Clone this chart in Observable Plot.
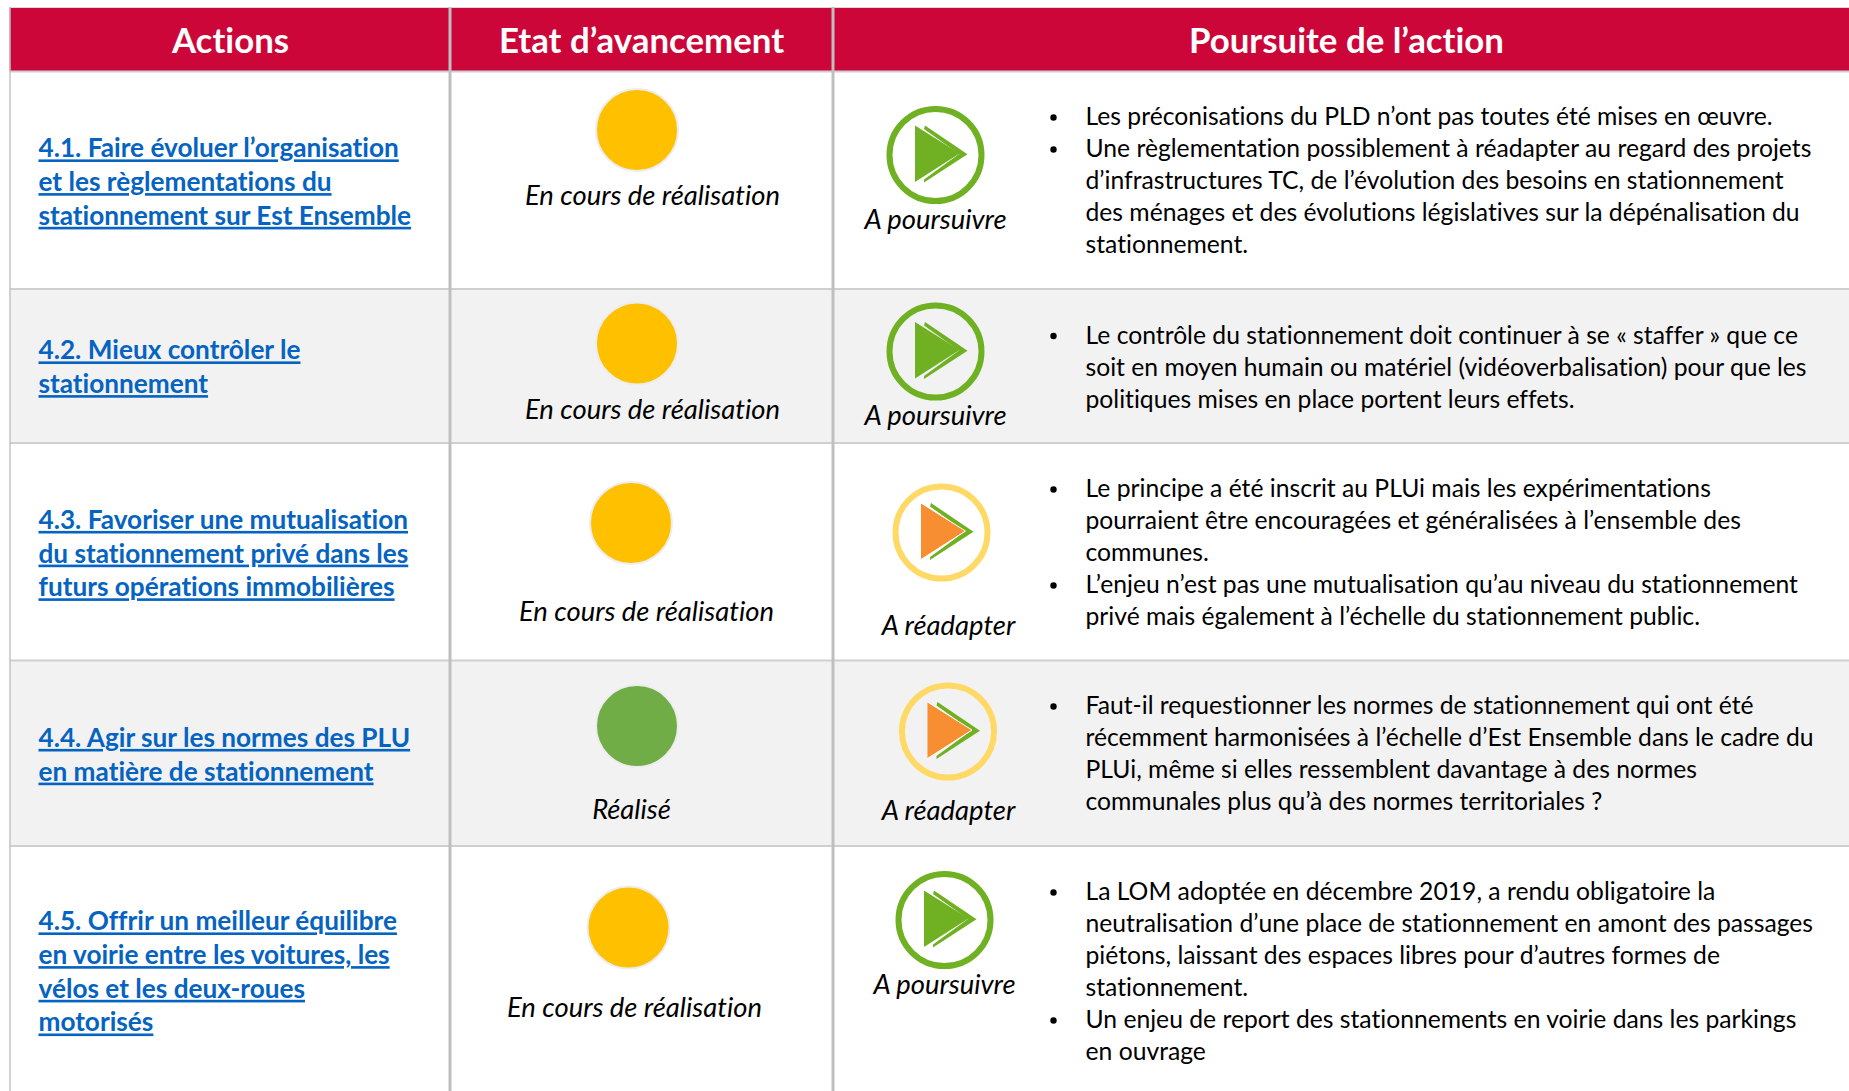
<!DOCTYPE html>
<html lang="fr">
<head>
<meta charset="utf-8">
<title>Actions</title>
<script src="https://cdn.jsdelivr.net/npm/d3@7"></script>
<script src="https://cdn.jsdelivr.net/npm/@observablehq/plot@0.6"></script>
<style>
html,body{margin:0;padding:0;background:#fff;}
#chart svg{display:block;max-width:none;}
#chart svg text{font-feature-settings:"liga" 0,"clig" 0,"dlig" 0;font-variant-ligatures:none;}
.action-link text{text-decoration:underline;text-decoration-thickness:2px;text-underline-offset:3px;}
</style>
</head>
<body>
<div id="chart"></div>
<script>
// ---- content ----
const headers = ["Actions", "Etat d’avancement", "Poursuite de l’action"];
const actions = [
  ["4.1. Faire évoluer l’organisation", "et les règlementations du", "stationnement sur Est Ensemble"],
  ["4.2. Mieux contrôler le", "stationnement"],
  ["4.3. Favoriser une mutualisation", "du stationnement privé dans les", "futurs opérations immobilières"],
  ["4.4. Agir sur les normes des PLU", "en matière de stationnement"],
  ["4.5. Offrir un meilleur équilibre", "en voirie entre les voitures, les", "vélos et les deux-roues", "motorisés"]
];
const statuses = ["En cours de réalisation", "En cours de réalisation", "En cours de réalisation", "Réalisé", "En cours de réalisation"];
const followUps = ["A poursuivre", "A poursuivre", "A réadapter", "A réadapter", "A poursuivre"];
const comments = [
  ["Les préconisations du PLD n’ont pas toutes été mises en œuvre.",
   "Une règlementation possiblement à réadapter au regard des projets",
   "d’infrastructures TC, de l’évolution des besoins en stationnement",
   "des ménages et des évolutions législatives sur la dépénalisation du",
   "stationnement."],
  ["Le contrôle du stationnement doit continuer à se « staffer » que ce",
   "soit en moyen humain ou matériel (vidéoverbalisation) pour que les",
   "politiques mises en place portent leurs effets."],
  ["Le principe a été inscrit au PLUi mais les expérimentations",
   "pourraient être encouragées et généralisées à l’ensemble des",
   "communes.",
   "L’enjeu n’est pas une mutualisation qu’au niveau du stationnement",
   "privé mais également à l’échelle du stationnement public."],
  ["Faut-il requestionner les normes de stationnement qui ont été",
   "récemment harmonisées à l’échelle d’Est Ensemble dans le cadre du",
   "PLUi, même si elles ressemblent davantage à des normes",
   "communales plus qu’à des normes territoriales ?"],
  ["La LOM adoptée en décembre 2019, a rendu obligatoire la",
   "neutralisation d’une place de stationnement en amont des passages",
   "piétons, laissant des espaces libres pour d’autres formes de",
   "stationnement.",
   "Un enjeu de report des stationnements en voirie dans les parkings",
   "en ouvrage"]
];
const bulletLines = [[0, 1], [0], [0, 3], [0], [0, 4]];

// ---- table layout ----
const W = 1849, H = 1091;
const columnEdges = [9.5, 449.5, 832.5, 1849];
const rowEdges = [7, 71, 288.5, 442.5, 660, 845.5, 1091];
const headerCentres = [230, 641, 1346];
const linkFirst = [148.5, 350.5, 520, 738, 921.5];
const bodyFirst = [117, 335.5, 489, 706, 892];
const statusSpots = [[636.5, 129.5], [636.5, 343], [630.5, 522.5], [636.5, 725.5], [628, 927]];
const statusLabelSpots = [[652, 196], [652, 410], [646, 612], [631, 810], [634, 1008]];
const iconSpots = [[935, 154.5], [935, 351], [941, 532], [947.5, 731], [944, 919.5]];
const iconLabelSpots = [[935, 219.5], [935, 416], [948, 626], [948, 811], [944, 985]];
const LINK_STEP = 33.7, BODY_STEP = 32;

const rowsIdx = d3.range(actions.length);
const rowBands = rowsIdx.map(i => ({i, y1: rowEdges[i + 1], y2: rowEdges[i + 2]}));
const linkLines = actions.flatMap((ls, r) => ls.map((t, k) => ({t, y: linkFirst[r] + k * LINK_STEP})));
const bodyLines = comments.flatMap((ls, r) => ls.map((t, k) => ({t, y: bodyFirst[r] + k * BODY_STEP})));
const bullets = bulletLines.flatMap((ls, r) => ls.map(k => ({y: bodyFirst[r] + k * BODY_STEP})));
const statusColour = s => s === "Réalisé" ? "#70AD47" : "#FFC000";
const statusRows = rowsIdx.map(i => ({s: statuses[i], x: statusSpots[i][0], y: statusSpots[i][1], lx: statusLabelSpots[i][0], ly: statusLabelSpots[i][1]}));
const iconRows = rowsIdx.map(i => ({s: followUps[i], x: iconSpots[i][0], y: iconSpots[i][1], lx: iconLabelSpots[i][0], ly: iconLabelSpots[i][1]}));

// play-glyph outlines, offsets from the icon centre
const triangleGlyph = [[-20.5, -29.5], [24, -1.5], [-20.5, 27]];
const chevronGlyph = [[-10.5, -29.5], [32, -0.8], [-11.5, 27.5], [-11.5, 24.5], [23.5, -1], [-11.5, -26]];
const glyph = (rows, shape) => rows.flatMap((r, i) => shape.map(([dx, dy]) => ({i, x: r.x + dx, y: r.y + dy})));
const poursuivre = iconRows.filter(r => r.s === "A poursuivre");
const readapter = iconRows.filter(r => r.s === "A réadapter");

const FONT = "Lato, Carlito, sans-serif";
const chart = Plot.plot({
  width: W, height: H,
  marginTop: 0, marginRight: 0, marginBottom: 0, marginLeft: 0,
  x: {domain: [0, W], range: [0, W], axis: null},
  y: {domain: [0, H], range: [0, H], axis: null},
  style: {background: "#fff"},
  marks: [
    // alternating row bands
    Plot.rect(rowBands.filter(d => d.i % 2 === 1), {x1: columnEdges[0], x2: columnEdges[3], y1: "y1", y2: "y2", fill: "#F2F2F2"}),
    // header
    Plot.rect([0], {x1: columnEdges[0], x2: columnEdges[3], y1: rowEdges[0], y2: rowEdges[1], fill: "#CC0639"}),
    // grid lines
    Plot.ruleY(rowEdges.slice(1, 6), {x1: columnEdges[0], x2: columnEdges[3], stroke: "#CFCFCF", strokeWidth: 2}),
    Plot.ruleY([rowEdges[0]], {x1: columnEdges[0], x2: columnEdges[3], stroke: "#D9D9D9", strokeWidth: 1}),
    Plot.ruleX(columnEdges.slice(0, 1), {y1: rowEdges[0], y2: H, stroke: "#C4C4C4", strokeWidth: 1.5}),
    Plot.ruleX(columnEdges.slice(1, 3), {y1: rowEdges[0], y2: H, stroke: "#BFBFBF", strokeWidth: 3}),
    // header labels
    Plot.text(headers, {x: (d, i) => headerCentres[i], y: 41, text: d => d, fill: "#fff", fontFamily: FONT, fontWeight: 700, fontSize: 34.8}),
    // action links
    Plot.text(linkLines, {x: 38, y: "y", text: "t", textAnchor: "start", fill: "#0563C1", fontFamily: FONT, fontWeight: 700, fontSize: 26.2, className: "action-link"}),
    // status lights
    Plot.dot(statusRows, {x: "x", y: "y", r: 41, fill: d => statusColour(d.s), stroke: "#EDEDED", strokeWidth: 2}),
    Plot.text(statusRows, {x: "lx", y: "ly", text: "s", fill: "#000", fontFamily: FONT, fontStyle: "italic", fontSize: 27.4}),
    // follow-up icons
    Plot.dot(poursuivre, {x: "x", y: "y", r: 46, fill: "none", stroke: "#6FB122", strokeWidth: 6}),
    Plot.dot(readapter, {x: "x", y: "y", r: 46, fill: "none", stroke: "#FFD966", strokeWidth: 6}),
    Plot.line(glyph(poursuivre, triangleGlyph), {x: "x", y: "y", z: "i", fill: "#6FB122", stroke: "none"}),
    Plot.line(glyph(poursuivre, chevronGlyph), {x: "x", y: "y", z: "i", fill: "#6FB122", stroke: "none"}),
    Plot.line(glyph(readapter, chevronGlyph), {x: "x", y: "y", z: "i", fill: "#6FB122", stroke: "none"}),
    Plot.line(glyph(readapter, triangleGlyph), {x: "x", y: "y", z: "i", fill: "#F78E31", stroke: "#fff", strokeWidth: 1}),
    Plot.text(iconRows, {x: "lx", y: "ly", text: "s", fill: "#000", fontFamily: FONT, fontStyle: "italic", fontSize: 27.4}),
    // comments
    Plot.dot(bullets, {x: 1053, y: "y", r: 3.2, fill: "#000", stroke: "none"}),
    Plot.text(bodyLines, {x: 1085, y: "y", text: "t", textAnchor: "start", fill: "#000", fontFamily: FONT, fontSize: 24.7})
  ]
});
document.getElementById("chart").appendChild(chart);
</script>
</body>
</html>
